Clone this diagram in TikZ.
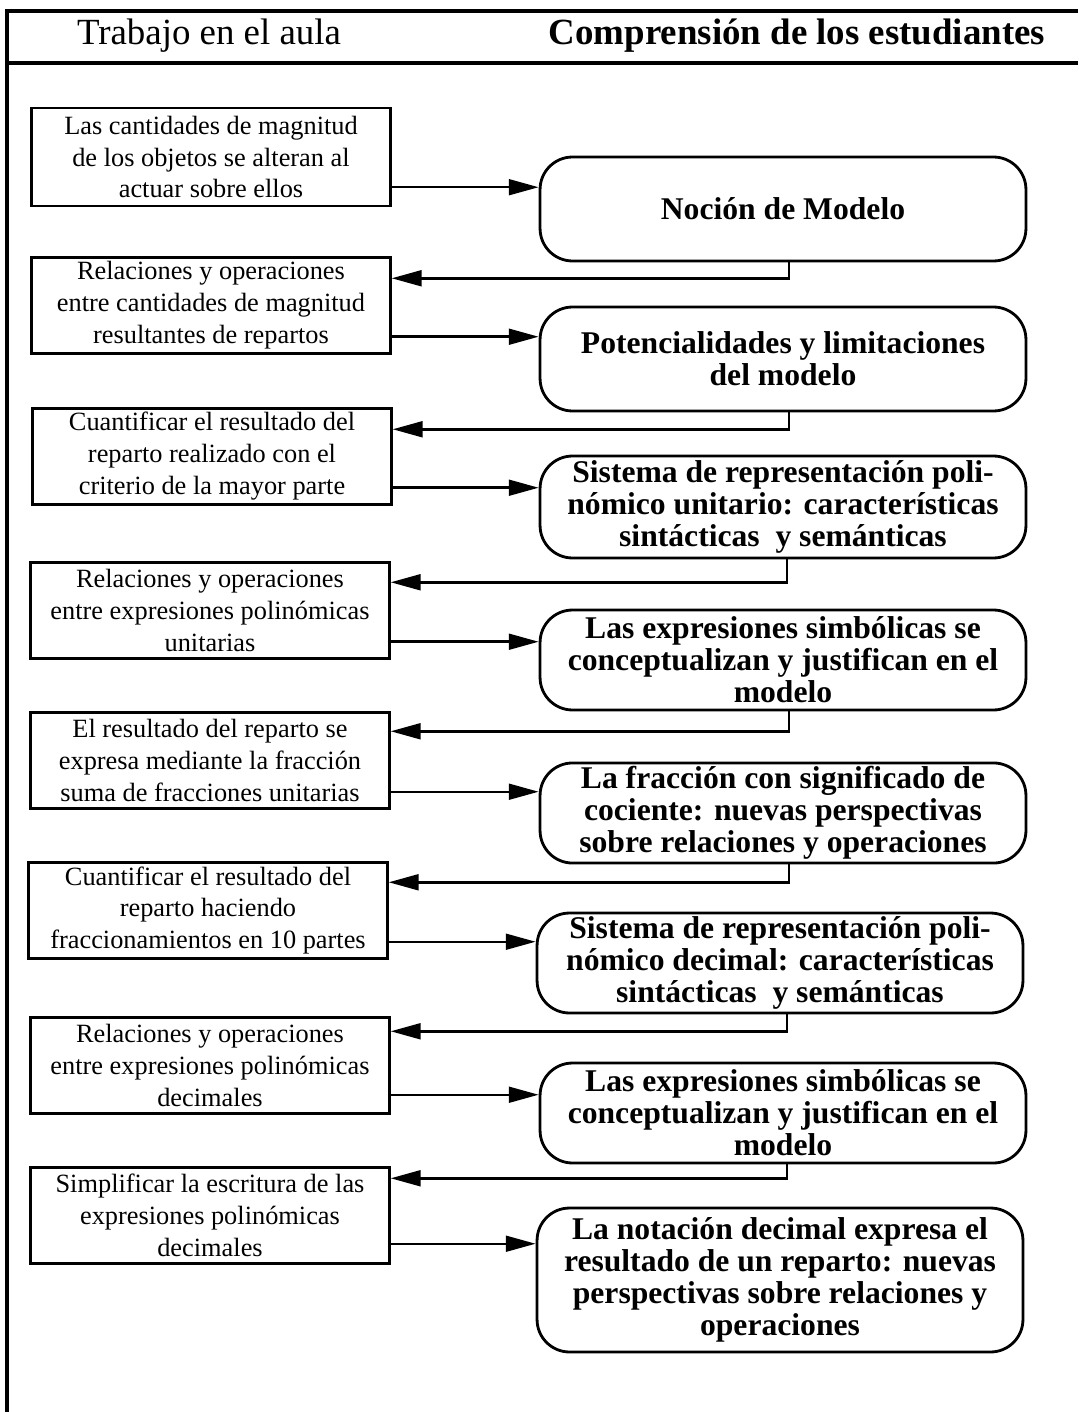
\documentclass[tikz,border=0pt]{standalone}
\usepackage{fontspec}
\setmainfont{Liberation Serif}
\usetikzlibrary{arrows.meta,positioning}
\tikzstyle{task}  = [draw, line width=1.4pt, minimum width=7.18cm, minimum height=1.92cm, inner sep=2pt, align=center, font=\fontsize{15}{18.2}\selectfont]
\tikzstyle{idea}  = [draw, line width=1.6pt, rounded corners=0.65cm, minimum width=9.72cm, minimum height=2.04cm, inner sep=2pt, align=center, font=\fontsize{18}{18.2}\selectfont\bfseries]
\tikzstyle{head}  = [anchor=base, inner sep=0pt, font=\fontsize{21}{25}\selectfont]
\tikzstyle{frame} = [line width=2.6pt]
\tikzstyle{fwd}   = [line width=1.4pt, -{Triangle[length=17pt,width=9pt]}]
\tikzstyle{back}  = [fwd]

\begin{document}
\begin{tikzpicture}[x=0.02cm, y=-0.02cm]
		\useasboundingbox (0,0) rectangle (1078,1412);
		% header
		\draw[frame] (7,1412) -- (7,11) -- (1078,11);
		\draw[frame] (7,63) -- (1078,63);
		\node[head] (work) at (209,45) {Trabajo en el aula};
		\node[head, font=\fontsize{21}{25}\selectfont\bfseries] (understanding) at (797,45) {Comprensión de los estudiantes};

		% classroom work
		\node[task, minimum height=1.96cm] (l1) at (211,157) {Las cantidades de magnitud\\de los objetos se alteran al\\actuar sobre ellos};
		\node[task] (l2) at (211,305.5) {Relaciones y operaciones\\entre cantidades de magnitud\\resultantes de repartos};
		\node[task] (l3) at (212,456.5) {Cuantificar el resultado del\\reparto realizado con el\\criterio de la mayor parte};
		\node[task] (l4) at (210,610.5) {Relaciones y operaciones\\entre expresiones polinómicas\\unitarias};
		\node[task] (l5) at (210,760.5) {El resultado del reparto se\\expresa mediante la fracción\\suma de fracciones unitarias};
		\node[task] (l6) at (208,910.5) {Cuantificar el resultado del\\reparto haciendo\\fraccionamientos en 10 partes};
		\node[task] (l7) at (210,1065.5) {Relaciones y operaciones\\entre expresiones polinómicas\\decimales};
		\node[task] (l8) at (210,1215.5) {Simplificar la escritura de las\\expresiones polinómicas\\decimales};

		% students' understanding
		\node[idea, minimum height=2.08cm] (r1) at (783,209) {Noción de Modelo};
		\node[idea, minimum height=2.08cm] (r2) at (783,359) {Potencialidades y limitaciones\\del modelo};
		\node[idea] (r3) at (783,507) {Sistema de representación poli-\\nómico unitario: características\\sintácticas\ \ y semánticas};
		\node[idea, minimum height=2cm] (r4) at (783,660) {Las expresiones simbólicas se\\conceptualizan y justifican en el\\modelo};
		\node[idea, minimum height=2cm] (r5) at (783,813) {La fracción con significado de\\cociente: nuevas perspectivas\\sobre relaciones y operaciones};
		\node[idea, minimum height=2cm] (r6) at (780,963) {Sistema de representación poli-\\nómico decimal: características\\sintácticas\ \ y semánticas};
		\node[idea, minimum height=2cm] (r7) at (783,1113) {Las expresiones simbólicas se\\conceptualizan y justifican en el\\modelo};
		\node[idea, minimum height=2.88cm] (r8) at (780,1280) {La notación decimal expresa el\\resultado de un reparto: nuevas\\perspectivas sobre relaciones y\\operaciones};

		% forward arrows
		\draw[fwd] ([yshift=.40cm]l1.south east) -- ([yshift=.40cm]l1.south east -| r1.west);
		\draw[fwd] ([yshift=.36cm]l2.south east) -- ([yshift=.36cm]l2.south east -| r2.west);
		\draw[fwd] ([yshift=.36cm]l3.south east) -- ([yshift=.36cm]l3.south east -| r3.west);
		\draw[fwd] ([yshift=.36cm]l4.south east) -- ([yshift=.36cm]l4.south east -| r4.west);
		\draw[fwd] ([yshift=.36cm]l5.south east) -- ([yshift=.36cm]l5.south east -| r5.west);
		\draw[fwd] ([yshift=.36cm]l6.south east) -- ([yshift=.36cm]l6.south east -| r6.west);
		\draw[fwd] ([yshift=.40cm]l7.south east) -- ([yshift=.40cm]l7.south east -| r7.west);
		\draw[fwd] ([yshift=.42cm]l8.south east) -- ([yshift=.42cm]l8.south east -| r8.west);

		% return arrows
		\draw[back] ([xshift=.12cm]r1.south) |- ([yshift=-.44cm]l2.north east);
		\draw[back] ([xshift=.12cm]r2.south) |- ([yshift=-.44cm]l3.north east);
		\draw[back] ([xshift=.08cm]r3.south) |- ([yshift=-.42cm]l4.north east);
		\draw[back] ([xshift=.12cm]r4.south) |- ([yshift=-.40cm]l5.north east);
		\draw[back] ([xshift=.12cm]r5.south) |- ([yshift=-.42cm]l6.north east);
		\draw[back] ([xshift=.14cm]r6.south) |- ([yshift=-.30cm]l7.north east);
		\draw[back] ([xshift=.08cm]r7.south) |- ([yshift=-.24cm]l8.north east);
	\end{tikzpicture}
\end{document}
